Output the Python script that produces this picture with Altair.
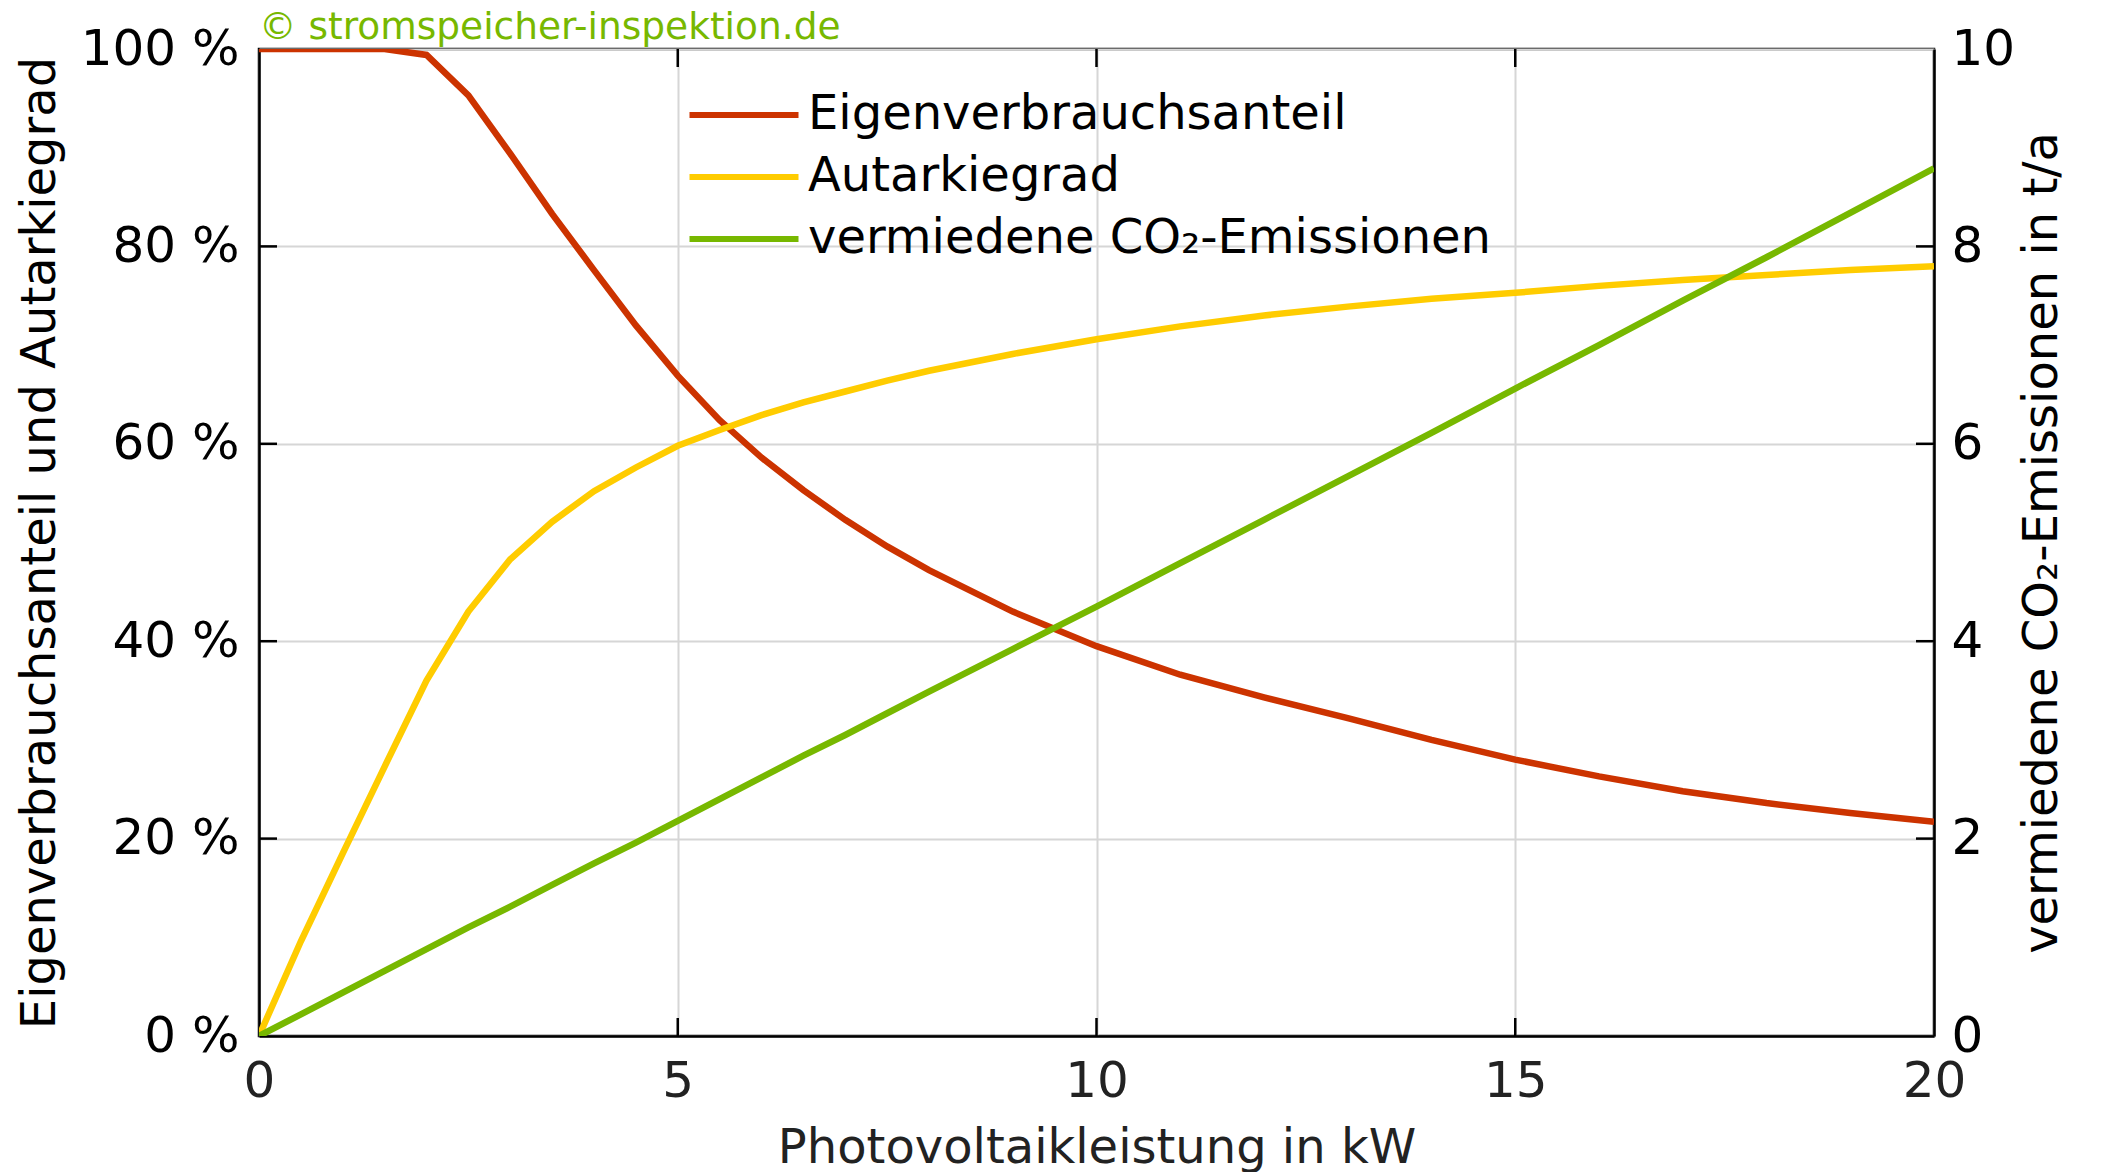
import altair as alt
import pandas as pd

# ---- data ----
x_kw = [0, 0.5, 1, 1.5, 2, 2.5, 3, 3.5, 4, 4.5, 5, 5.5, 6, 6.5, 7, 7.5, 8,
        9, 10, 11, 12, 13, 14, 15, 16, 17, 18, 19, 20]
eigenverbrauch = [100, 100, 100, 100, 99.4, 95.3, 89.4, 83.3, 77.6, 72.0, 66.9, 62.4, 58.6,
                  55.3, 52.3, 49.6, 47.2, 43.0, 39.5, 36.6, 34.3, 32.2, 30.0, 28.0,
                  26.3, 24.8, 23.6, 22.6, 21.7]
autarkie = [0, 9.6, 18.5, 27.3, 36.0, 43.0, 48.3, 52.1, 55.2, 57.6, 59.8, 61.4, 62.9,
            64.2, 65.3, 66.4, 67.4, 69.1, 70.6, 71.9, 73.0, 73.9, 74.7, 75.3,
            76.0, 76.6, 77.1, 77.6, 78.0]
co2 = [0, 0.22, 0.44, 0.66, 0.88, 1.10, 1.31, 1.53, 1.75, 1.96, 2.18, 2.40, 2.62,
       2.84, 3.05, 3.27, 3.49, 3.92, 4.35, 4.79, 5.23, 5.67, 6.11, 6.56,
       7.00, 7.45, 7.89, 8.34, 8.79]

series_names = ["Eigenverbrauchsanteil", "Autarkiegrad", "vermiedene CO₂-Emissionen"]
series_colors = ["#cc3300", "#ffcc00", "#77b800"]

x_tick_values = [0, 5, 10, 15, 20]
left_tick_values = [0, 20, 40, 60, 80, 100]
right_tick_values = [0, 2, 4, 6, 8, 10]
x_inner_ticks = [5, 10, 15]
left_inner_ticks = [20, 40, 60, 80]
right_inner_ticks = [2, 4, 6, 8]

W, H = 1675, 987
FONT = "DejaVu Sans"
FS = 48
LFS = 50
TICK = 18

n = len(x_kw)
df_left = pd.DataFrame({
    "x": x_kw + x_kw,
    "y": eigenverbrauch + autarkie,
    "s": [series_names[0]] * n + [series_names[1]] * n,
})
df_right = pd.DataFrame({"x": x_kw, "y": co2, "s": [series_names[2]] * n})

xscale = alt.Scale(domain=[0, 20], nice=False, zero=False)
lscale = alt.Scale(domain=[0, 100], nice=False)
rscale = alt.Scale(domain=[0, 10], nice=False)

color = alt.Color(
    "s:N",
    scale=alt.Scale(domain=series_names, range=series_colors),
    legend=alt.Legend(
        title=None, orient="none", legendX=461, legendY=42,
        symbolType="M-2.725,0L2.725,0", symbolStrokeWidth=6, symbolSize=1600,
        symbolFillColor="transparent",
        labelFontSize=FS, labelFont=FONT, labelColor="black", labelOffset=40,
        rowPadding=14, padding=0, labelLimit=1000,
    ),
)

x_axis = alt.Axis(
    values=x_tick_values, format="d", title="Photovoltaikleistung in kW", titleFontSize=FS,
    titleFont=FONT, titleFontWeight="normal", titleColor="#222222", titlePadding=18,
    labelFontSize=LFS, labelFont=FONT, labelColor="#222222", labelPadding=20,
    ticks=False, domainColor="black", domainWidth=2.5,
    grid=True, gridColor="#d6d6d6", gridWidth=2, labelFlush=False,
)
left_axis = alt.Axis(
    orient="left", values=left_tick_values, labelExpr="datum.value + ' %'",
    title="Eigenverbrauchsanteil und Autarkiegrad", titleFontSize=FS,
    titleFont=FONT, titleFontWeight="normal", titleColor="black", titlePadding=16,
    labelFontSize=LFS, labelFont=FONT, labelColor="black", labelPadding=20,
    ticks=False, domainColor="black", domainWidth=2.5,
    grid=True, gridColor="#d6d6d6", gridWidth=2, labelFlush=False,
)
right_axis = alt.Axis(
    orient="right", values=right_tick_values,
    title="vermiedene CO₂-Emissionen in t/a", titleAngle=270, titleBaseline="top",
    titleFontSize=FS, titleFont=FONT, titleFontWeight="normal", titleColor="black",
    titlePadding=4,
    labelFontSize=LFS, labelFont=FONT, labelColor="black", labelPadding=17,
    labelAlign="left",
    ticks=False, domainColor="black", domainWidth=2.5, grid=False, labelFlush=False,
)

left_lines = alt.Chart(df_left).mark_line(strokeWidth=6.5, clip=True).encode(
    x=alt.X("x:Q", scale=xscale, axis=x_axis),
    y=alt.Y("y:Q", scale=lscale, axis=left_axis),
    color=color,
)

right_line = alt.Chart(df_right).mark_line(strokeWidth=6.5, clip=True).encode(
    x=alt.X("x:Q", scale=xscale),
    y=alt.Y("y:Q", scale=rscale, axis=right_axis),
    color=color,
)

xt = pd.DataFrame({"t": x_inner_ticks})
bottom_ticks = alt.Chart(xt).mark_rule(color="black", strokeWidth=2.5).encode(
    x=alt.X("t:Q", scale=xscale),
    y=alt.value(H), y2=alt.value(H - TICK),
)
top_ticks = alt.Chart(xt).mark_rule(color="black", strokeWidth=2.5).encode(
    x=alt.X("t:Q", scale=xscale),
    y=alt.value(0), y2=alt.value(TICK),
)
left_ticks = alt.Chart(pd.DataFrame({"t": left_inner_ticks})).mark_rule(
    color="black", strokeWidth=2.5).encode(
    y=alt.Y("t:Q", scale=lscale, axis=None),
    x=alt.value(0), x2=alt.value(TICK),
)
right_ticks = alt.Chart(pd.DataFrame({"t": right_inner_ticks})).mark_rule(
    color="black", strokeWidth=2.5).encode(
    y=alt.Y("t:Q", scale=rscale, axis=None),
    x=alt.value(W), x2=alt.value(W - TICK),
)

chart = alt.layer(
    left_lines, right_line, left_ticks, right_ticks, bottom_ticks, top_ticks
).resolve_scale(y="independent").properties(
    width=W, height=H,
    title=alt.TitleParams(
        "© stromspeicher-inspektion.de", anchor="start", frame="group",
        fontSize=37.5, font=FONT, fontWeight="normal", color="#77b800", offset=-22,
    ),
    padding={"left": 8, "top": 0, "right": 5, "bottom": 0},
).configure(font=FONT).configure_view(stroke="black", strokeWidth=2.5)

chart.save("out.html", embed_options={"renderer": "svg", "actions": False})
